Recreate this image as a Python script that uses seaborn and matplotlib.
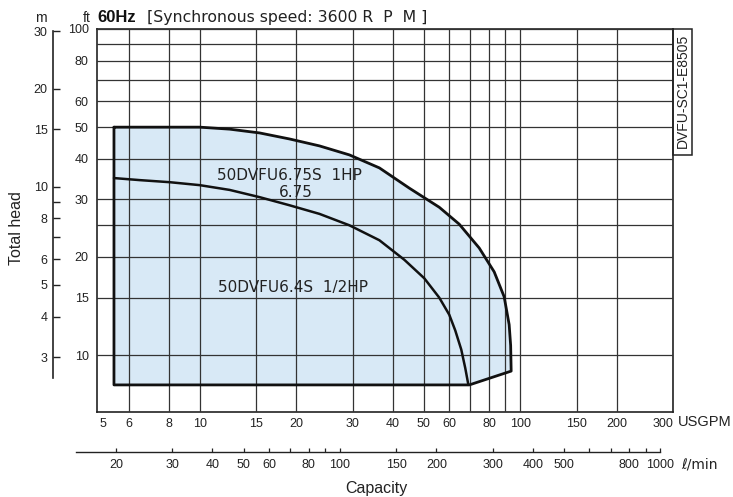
import numpy as np
import pandas as pd
import matplotlib
matplotlib.use('Agg')
import matplotlib.pyplot as plt
import matplotlib.patches as mpatches
from matplotlib.ticker import FixedLocator, NullFormatter, FixedFormatter
import seaborn as sns

# 50DVFU6.75S 1HP envelope (capacity USGPM, total head ft)
q_1hp = [5.40, 10.0, 12.4, 15.38, 19.07, 23.65, 29.33, 36.37, 45.11, 55.93, 64.57, 74.53, 82.99, 89.15, 92.42, 93.42, 93.76]
h_1hp = [50.0, 50.0, 49.3, 48.0, 46.0, 43.8, 41.1, 37.5, 32.5, 28.4, 25.2, 21.3, 18.0, 15.1, 12.4, 10.7, 8.93]
# lower limit of the operating range
q_low = [69.4, 5.40]
h_low = [8.1, 8.1]
# 50DVFU6.4S 1/2HP curve
q_half = [5.40, 6.50, 8.06, 10.0, 12.4, 15.38, 19.07, 23.65, 29.33, 36.37, 43.51, 50.22, 55.93, 60.09, 62.74, 65.50, 67.42, 68.87]
h_half = [34.9, 34.4, 33.9, 33.2, 32.1, 30.5, 28.8, 27.1, 25.0, 22.5, 19.6, 17.2, 15.0, 13.3, 11.9, 10.4, 9.12, 8.15]

usgpm_ticks = [5, 6, 8, 10, 15, 20, 30, 40, 50, 60, 80, 100, 150, 200, 300]
usgpm_minor = [70, 90]
ft_ticks = [10, 15, 20, 30, 40, 50, 60, 80, 100]
ft_minor = [25, 70, 90]
m_ticks = [3, 4, 5, 6, 8, 10, 15, 20, 30]
m_minor = [7, 9]
lmin_ticks = [20, 30, 40, 50, 60, 80, 100, 150, 200, 300, 400, 500, 800, 1000]
lmin_minor = [70, 90, 600, 700, 900]

W, H = 733, 497
LMIN_PER_GPM = 3.65
FT_PER_M = 1 / 0.3048

sns.set_theme(style="white")
plt.rcParams['font.family'] = ['Liberation Sans', 'DejaVu Sans']

fig = plt.figure(figsize=(W / 100, H / 100), dpi=100)
ax = fig.add_axes([97 / W, 1 - 412 / H, 576 / W, 383 / H])
ax.set_xscale('log')
ax.set_yscale('log')
ax.set_xlim(4.78, 300)
ax.set_ylim(6.69, 100)

# operating range fill
ax.fill(q_1hp + q_low, h_1hp + h_low, color='#d8e9f6', zorder=1, lw=0)

df_1hp = pd.DataFrame({'q': q_1hp + q_low + [q_1hp[0]], 'h': h_1hp + h_low + [h_1hp[0]]})
df_half = pd.DataFrame({'q': q_half, 'h': h_half})
sns.lineplot(data=df_1hp, x='q', y='h', sort=False, estimator=None, color='#111111', lw=2.0, ax=ax, zorder=4)
sns.lineplot(data=df_half, x='q', y='h', sort=False, estimator=None, color='#111111', lw=1.8, ax=ax, zorder=4)

ax.xaxis.set_major_locator(FixedLocator(usgpm_ticks))
ax.xaxis.set_major_formatter(FixedFormatter([str(v) for v in usgpm_ticks]))
ax.xaxis.set_minor_locator(FixedLocator(usgpm_minor))
ax.xaxis.set_minor_formatter(NullFormatter())
ax.yaxis.set_major_locator(FixedLocator(ft_ticks))
ax.yaxis.set_major_formatter(FixedFormatter([str(v) for v in ft_ticks]))
ax.yaxis.set_minor_locator(FixedLocator(ft_minor))
ax.yaxis.set_minor_formatter(NullFormatter())

ax.set_axisbelow(False)
ax.grid(True, which='both', color='#333333', lw=0.9)
ax.tick_params(axis='x', which='both', length=2, width=0.8, color='#333333', pad=2, labelsize=9, labelcolor='#222222')
ax.tick_params(axis='y', which='both', length=0, pad=6, labelsize=9, labelcolor='#222222')
for s in ax.spines.values():
    s.set_color('#222222')
    s.set_linewidth(1.2)
ax.set_xlabel('')
ax.set_ylabel('')

# meter scale
sec_m = ax.secondary_yaxis(-0.076, functions=(lambda f: f / FT_PER_M, lambda m: m * FT_PER_M))
sec_m.yaxis.set_major_locator(FixedLocator(m_ticks))
sec_m.yaxis.set_major_formatter(FixedFormatter([str(v) for v in m_ticks]))
sec_m.yaxis.set_minor_locator(FixedLocator(m_minor))
sec_m.yaxis.set_minor_formatter(NullFormatter())
sec_m.tick_params(which='both', direction='in', length=5, width=1.0, color='#222222', pad=4, labelsize=9, labelcolor='#222222')
sec_m.spines['left'].set_linewidth(1.2)
sec_m.spines['left'].set_color('#222222')
sec_m.spines['left'].set_bounds(2.6, 30)

# l/min scale
sec_l = ax.secondary_xaxis(-0.104, functions=(lambda q: q * LMIN_PER_GPM, lambda l: l / LMIN_PER_GPM))
sec_l.xaxis.set_major_locator(FixedLocator(lmin_ticks))
sec_l.xaxis.set_major_formatter(FixedFormatter([str(v) for v in lmin_ticks]))
sec_l.xaxis.set_minor_locator(FixedLocator(lmin_minor))
sec_l.xaxis.set_minor_formatter(NullFormatter())
sec_l.tick_params(which='both', direction='in', length=3, width=0.9, color='#222222', pad=5, labelsize=9, labelcolor='#222222')
sec_l.spines['bottom'].set_linewidth(1.0)
sec_l.spines['bottom'].set_color('#222222')
sec_l.spines['bottom'].set_bounds(15, 1000)

fig.canvas.draw()
# the 5 USGPM line is the left frame itself; 300 label sits left of the frame corner
ax.xaxis.get_major_ticks()[0].gridline.set_visible(False)
ax.xaxis.get_major_ticks()[-1].label1.set_horizontalalignment('right')

# curve labels
lab_kw = dict(fontsize=11, color='#222222', family='DejaVu Sans', zorder=5)
ax.text(11.3, 35.5, '50DVFU6.75S  1HP', ha='left', va='center', **lab_kw)
ax.text(20.0, 31.5, '6.75', ha='center', va='center', **lab_kw)
ax.text(11.4, 16.1, '50DVFU6.4S  1/2HP', ha='left', va='center', **lab_kw)


def fx(px):
    return px / W


def fy(py):
    return 1 - py / H


fig.text(fx(41), fy(22), 'm', ha='center', va='baseline', fontsize=10, color='#222222')
fig.text(fx(87), fy(22), 'ft', ha='center', va='baseline', fontsize=10, color='#222222')
fig.text(fx(97), fy(22), '60Hz', ha='left', va='baseline', fontsize=12, fontweight='bold', color='#111111')
fig.text(fx(147), fy(22), '[Synchronous speed: 3600 R  P  M ]', ha='left', va='baseline', fontsize=11.3,
         color='#222222', family=['DejaVu Sans'])
fig.text(fx(678), fy(422), 'USGPM', ha='left', va='center', fontsize=10.5, color='#222222')
fig.text(fx(681), fy(465), 'ℓ/min', ha='left', va='center', fontsize=10, color='#222222',
         family=['DejaVu Sans'])
fig.text(fx(376), fy(488), 'Capacity', ha='center', va='center', fontsize=11.5, color='#222222')
fig.text(fx(17), fy(228), 'Total head', ha='center', va='center', rotation=90, fontsize=11.5, color='#222222')

# drawing number box
fig.patches.append(mpatches.Rectangle((fx(673), fy(155)), 19 / W, 126 / H, transform=fig.transFigure,
                                      fill=False, ec='#222222', lw=1.1))
fig.text(fx(682.5), fy(91), 'DVFU-SC1-E8505', ha='center', va='center', rotation=90, fontsize=10, color='#222222')

fig.savefig('out.png', dpi=100, facecolor='white')
